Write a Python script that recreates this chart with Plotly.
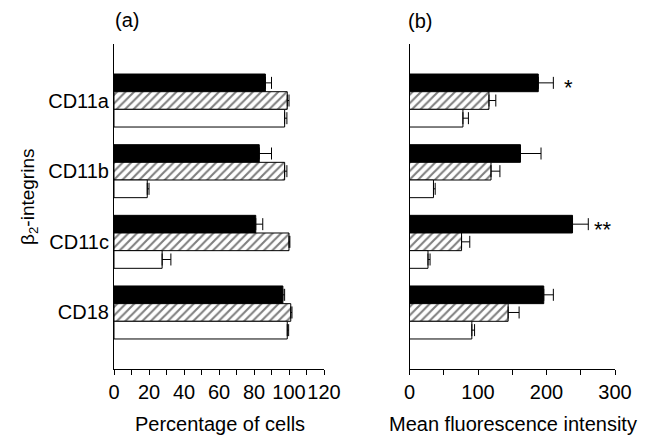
import plotly.graph_objects as go

categories = ["CD11a", "CD11b", "CD11c", "CD18"]

# Panel (a): percentage of cells
pct_black = [86.5, 83, 81, 96.5]
pct_black_err = [3.5, 7, 4, 1]
pct_hatch = [99, 97.5, 100, 101]
pct_hatch_err = [1, 1.3, 0.5, 0.7]
pct_white = [97.5, 19, 27.5, 99]
pct_white_err = [1.3, 1, 5, 0.8]

# Panel (b): mean fluorescence intensity
mfi_black = [188, 162, 238, 196]
mfi_black_err = [22, 30, 23, 14]
mfi_hatch = [116, 119, 76, 144]
mfi_hatch_err = [10, 13, 12, 16]
mfi_white = [78, 35, 27, 91]
mfi_white_err = [8, 2.5, 3, 4]

sig_marks = ["*", "", "**", ""]
sig_x = [232, None, 282, None]

a_ticks = [0, 20, 40, 60, 80, 100, 120]
b_ticks = [0, 100, 200, 300]

FONT = "Liberation Sans, Arial, Helvetica, sans-serif"
pos = list(range(len(categories)))

# page has an 8px body margin; work in window pixels and convert
OFF = 8
W, H = 665 - OFF, 436 - OFF


def px(X):
    return (X - OFF) / W


def py(Y):
    return 1 - (Y - OFF) / H


fig = go.Figure()


def add_series(vals, errs, kind, xa, ya):
    if kind == "black":
        marker = dict(color="black", line=dict(color="black", width=1))
    elif kind == "hatch":
        marker = dict(color="white", line=dict(color="black", width=1),
                      pattern=dict(shape="/", fgcolor="black", bgcolor="white",
                                   size=6, solidity=0.35, fillmode="overlay"))
    else:
        marker = dict(color="white", line=dict(color="black", width=1))
    fig.add_trace(go.Bar(
        x=vals, y=pos, orientation="h", marker=marker,
        error_x=dict(type="data", array=errs, arrayminus=[0] * len(errs),
                     symmetric=False, color="black", thickness=1, width=6),
        xaxis=xa, yaxis=ya, showlegend=False, hoverinfo="skip",
    ))


add_series(pct_black, pct_black_err, "black", "x", "y")
add_series(pct_hatch, pct_hatch_err, "hatch", "x", "y")
add_series(pct_white, pct_white_err, "white", "x", "y")
add_series(mfi_black, mfi_black_err, "black", "x2", "y2")
add_series(mfi_hatch, mfi_hatch_err, "hatch", "x2", "y2")
add_series(mfi_white, mfi_white_err, "white", "x2", "y2")

ydom = [py(369), py(44)]

common_x = dict(showline=True, linecolor="black", linewidth=1, ticks="outside",
                ticklen=5, tickcolor="black", tickwidth=1, showgrid=False,
                zeroline=False, tickangle=0, automargin=False,
                tickfont=dict(family=FONT, size=20, color="black"))
common_y = dict(showline=True, linecolor="black", linewidth=1, ticks="",
                showgrid=False, zeroline=False, range=[3.8, -0.8],
                automargin=False, tickvals=pos)

fig.update_layout(
    width=W, height=H,
    margin=dict(l=0, r=0, t=0, b=0),
    paper_bgcolor="white", plot_bgcolor="white",
    barmode="group", bargap=0.25, bargroupgap=0,
    xaxis=dict(domain=[px(114), px(324)], range=[0, 120], tickvals=a_ticks,
               minor=dict(ticks="outside", ticklen=5, tick0=0, dtick=10,
                          tickcolor="black", showgrid=False),
               anchor="y", **common_x),
    yaxis=dict(domain=ydom, anchor="x", ticktext=categories, showticklabels=True,
               tickfont=dict(family=FONT, size=20, color="black"), **common_y),
    xaxis2=dict(domain=[px(409.5), px(615)], range=[0, 300], tickvals=b_ticks,
                minor=dict(ticks="outside", ticklen=5, tick0=0, dtick=50,
                           tickcolor="black", showgrid=False),
                anchor="y2", **common_x),
    yaxis2=dict(domain=ydom, anchor="x2", ticktext=categories, showticklabels=False,
                **common_y),
    font=dict(family=FONT, color="black"),
)

ann = []


def text_ann(t, X, Y, size=20, angle=0):
    ann.append(dict(text=t, x=px(X), y=py(Y), xref="paper", yref="paper",
                    xanchor="center", yanchor="middle", showarrow=False,
                    textangle=angle, font=dict(size=size, family=FONT)))


text_ann("(a)", 127, 20)
text_ann("(b)", 420, 21)
text_ann("Percentage of cells", 220, 424)
text_ann("Mean fluorescence intensity", 513, 424)
text_ann("β<sub>2</sub>-integrins", 29, 197, size=19, angle=-90)

for i, (m, sx) in enumerate(zip(sig_marks, sig_x)):
    if m:
        ann.append(dict(text=m, x=sx, y=pos[i] - 0.25, xref="x2", yref="y2",
                        xanchor="center", yanchor="middle",
                        showarrow=False, yshift=-5,
                        font=dict(size=22, family=FONT)))
fig.update_layout(annotations=ann)

fig.write_html("out.html")
